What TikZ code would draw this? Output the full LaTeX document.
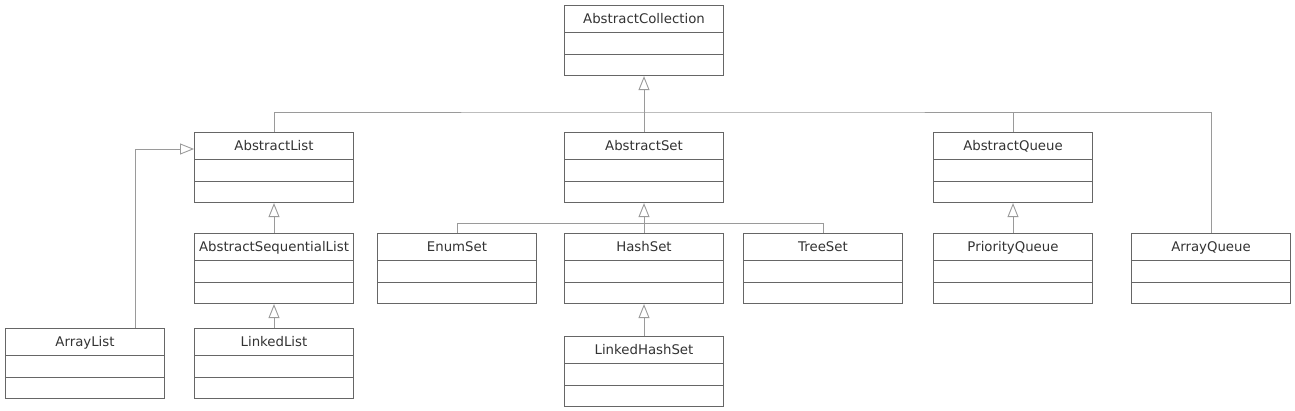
\documentclass[tikz,border=0pt]{standalone}
\usepackage{fontspec}
\setmainfont{DejaVu Sans}
\usepackage{xcolor}
\usetikzlibrary{arrows.meta, positioning, shapes.multipart}
\definecolor{umlline}{HTML}{666666}
\definecolor{umllink}{HTML}{9A9A9A}
\definecolor{umltext}{HTML}{333333}
\newcommand{\umlparts}[1]{\rule[-9pt]{0pt}{26.5pt}#1\nodepart{two}\rule{0pt}{21pt}\nodepart{three}\rule{0pt}{20pt}}

\begin{document}
\begin{tikzpicture}[
      x=1pt, y=-1pt,
      cls/.style={rectangle split, rectangle split parts=3, draw=umlline, fill=white, line width=0.9pt,
        minimum width=159pt, inner ysep=0pt, inner xsep=2pt, anchor=north, text=umltext,
        font=\fontsize{13.3}{16}\selectfont},
      inherit/.style={-{Triangle[open, length=14pt, width=11pt]}, line width=0.9pt, draw=umllink},
      link/.style={line width=0.9pt, draw=umllink}
    ]
      \useasboundingbox (0,0) rectangle (1295,411);
      % top level
      \node[cls] (acoll) at (644,5) {\umlparts{AbstractCollection}};
      \node[cls] (alist) at (274,132) {\umlparts{AbstractList}};
      \node[cls] (aset) at (644,132) {\umlparts{AbstractSet}};
      \node[cls] (aqueue) at (1013,132) {\umlparts{AbstractQueue}};
      % second level
      \node[cls] (aseq) at (274,233) {\umlparts{AbstractSequentialList}};
      \node[cls] (enumset) at (457,233) {\umlparts{EnumSet}};
      \node[cls] (hashset) at (644,233) {\umlparts{HashSet}};
      \node[cls] (treeset) at (823,233) {\umlparts{TreeSet}};
      \node[cls] (pqueue) at (1013,233) {\umlparts{PriorityQueue}};
      \node[cls] (arrayqueue) at (1211,233) {\umlparts{ArrayQueue}};
      % bottom level
      \node[cls] (arraylist) at (85,328) {\umlparts{ArrayList}};
      \node[cls] (linkedlist) at (274,328) {\umlparts{LinkedList}};
      \node[cls] (lhashset) at (644,336) {\umlparts{LinkedHashSet}};
      \coordinate (bus) at (644,112);
      \coordinate (setbus) at (644,223.5);
      % generalisations
      \draw[inherit] (aset.north) -- (acoll.south);
      \draw[link] (alist.north) |- (bus) -| (arrayqueue.north);
      \draw[link] (aqueue.north) -- (aqueue.north |- bus);
      \draw[inherit] (hashset.north) -- (aset.south);
      \draw[link] (enumset.north) |- (setbus) -| (treeset.north);
      \draw[inherit] (aseq.north) -- (alist.south);
      \draw[inherit] (linkedlist.north) -- (aseq.south);
      \draw[inherit] (lhashset.north) -- (hashset.south);
      \draw[inherit] (pqueue.north) -- (aqueue.south);
      \draw[inherit] ([xshift=50pt]arraylist.north) |- ([yshift=-17pt]alist.north west);
    \end{tikzpicture}
\end{document}
